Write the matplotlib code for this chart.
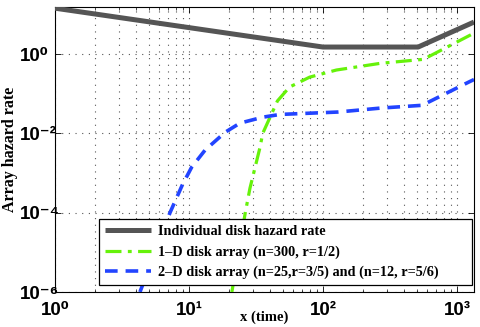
import numpy as np
import matplotlib.pyplot as plt
from matplotlib.ticker import FixedLocator, FixedFormatter, NullFormatter, NullLocator, LogLocator

# ------------------------
# DATA (log10 values)
# ------------------------
disk_logx = [0.0, 2.0, 2.71, 3.127]
disk_logy = [1.16, 0.18, 0.18, 0.81]

one_d_logx = [1.32, 1.42, 1.455, 1.53, 1.55, 1.66, 1.75, 1.90, 2.10, 2.43, 2.75, 3.127]
one_d_logy = [-6.0, -4.0, -3.38, -2.35, -2.0, -1.18, -0.83, -0.58, -0.40, -0.23, -0.13, 0.53]

two_d_logx = [0.634, 0.746, 0.858, 0.95, 1.02, 1.12, 1.27, 1.38, 1.55, 1.68, 2.11, 2.43, 2.74, 3.09, 3.127]
two_d_logy = [-6.0, -5.0, -4.0, -3.3, -2.85, -2.42, -1.97, -1.74, -1.59, -1.52, -1.46, -1.36, -1.29, -0.70, -0.64]

x_ticks = [1, 10, 100, 1000]
x_labels = ['10\u2070', '10\u00b9', '10\u00b2', '10\u00b3']
y_ticks = [1e-6, 1e-4, 1e-2, 1]
y_labels = ['10\u207b\u2076', '10\u207b\u2074', '10\u207b\u00b2', '10\u2070']

labels = ['Individual disk hazard rate',
          '1\u2013D disk array (n=300, r=1/2)',
          '2\u2013D disk array (n=25,r=3/5) and (n=12, r=5/6)']

serif = ['Liberation Serif', 'DejaVu Serif']
sans = ['Liberation Sans', 'DejaVu Sans']

# ------------------------
# PLOT
# ------------------------
fig = plt.figure(figsize=(4.8, 3.27), dpi=100)
ax = fig.add_axes([0.1146, 0.107, 0.8729, 0.8716])

p = lambda v: np.power(10.0, v)
ax.plot(p(disk_logx), p(disk_logy), color='#555555', lw=3.6, label=labels[0],
        solid_capstyle='butt', zorder=3)
ax.plot(p(one_d_logx), p(one_d_logy), color='#66f20a', lw=2.3, label=labels[1],
        dashes=(5, 2, 1.2, 2), zorder=3)
ax.plot(p(two_d_logx), p(two_d_logy), color='#2244ff', lw=2.6, label=labels[2],
        dashes=(3.5, 2.2), zorder=3)

ax.set_xscale('log')
ax.set_yscale('log')
ax.set_xlim(1, 10 ** 3.127)
ax.set_ylim(1e-6, 10 ** 1.19)

ax.xaxis.set_major_locator(FixedLocator(x_ticks))
ax.xaxis.set_major_formatter(FixedFormatter(x_labels))
ax.yaxis.set_major_locator(FixedLocator(y_ticks))
ax.yaxis.set_major_formatter(FixedFormatter(y_labels))
ax.xaxis.set_minor_locator(LogLocator(base=10, subs=np.arange(2, 10), numticks=20))
ax.xaxis.set_minor_formatter(NullFormatter())
ax.yaxis.set_minor_locator(NullLocator())

ax.tick_params(which='both', direction='in', top=True, right=True, labelsize=13.5)
ax.tick_params(which='major', length=4, width=0.6)
ax.tick_params(which='minor', length=2, width=0.5)
ax.tick_params(axis='x', pad=7)
ax.tick_params(axis='y', pad=25)
for t in ax.get_yticklabels() + ax.get_xticklabels():
    t.set_family(sans)
    t.set_fontweight('bold')
for t in ax.get_yticklabels():
    t.set_horizontalalignment('left')

ax.grid(True, which='major', ls=(0, (1, 5)), color='#555555', lw=0.8)
ax.grid(True, which='minor', axis='x', ls=(0, (1, 5)), color='#555555', lw=0.8)

for s in ax.spines.values():
    s.set_linewidth(0.8)

ax.set_xlabel('x (time)', family=serif, fontweight='bold', fontsize=10.5)
ax.xaxis.set_label_coords(0.5, -0.066)
ax.set_ylabel('Array hazard rate', family=serif, fontweight='bold', fontsize=11.5)
ax.yaxis.set_label_coords(-0.089, 0.5)

leg = ax.legend(loc='lower left', bbox_to_anchor=(0.105, 0.024, 0.89, 0.2), mode='expand',
                fancybox=False, edgecolor='black', framealpha=1, handlelength=3.2,
                handletextpad=0.5, borderpad=0.4, borderaxespad=0, labelspacing=0.5,
                prop={'family': serif, 'weight': 'bold', 'size': 10.3})
leg.get_frame().set_linewidth(0.9)

fig.savefig('out.png', dpi=100)
